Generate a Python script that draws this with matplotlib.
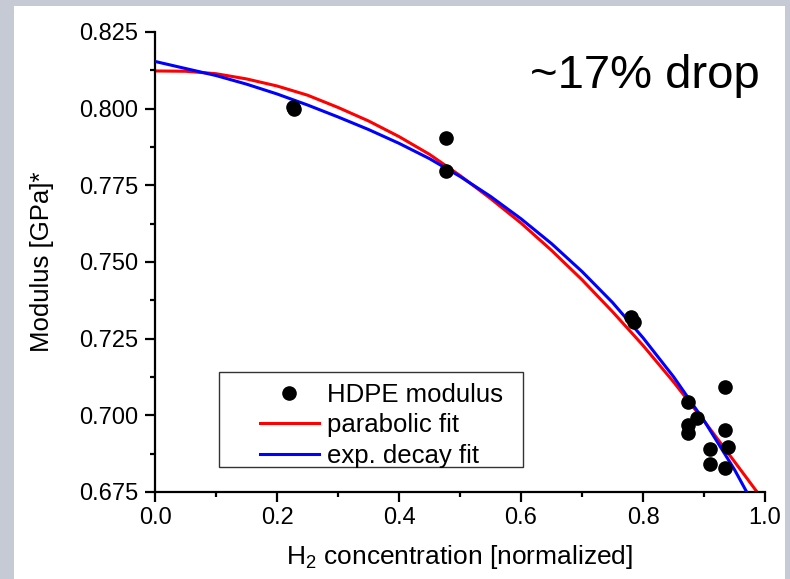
import matplotlib
matplotlib.use("Agg")
import matplotlib.pyplot as plt
from matplotlib.patches import Rectangle
from matplotlib.ticker import MultipleLocator, FormatStrFormatter

plt.rcParams["font.family"] = ["Liberation Sans", "DejaVu Sans"]
plt.rcParams["mathtext.fontset"] = "custom"
plt.rcParams["mathtext.rm"] = "Liberation Sans"
plt.rcParams["mathtext.default"] = "regular"

# measured HDPE modulus
h2_conc = [0.226, 0.228, 0.477, 0.477, 0.780, 0.786, 0.874, 0.873, 0.874,
           0.889, 0.910, 0.910, 0.934, 0.934, 0.940, 0.934]
modulus = [0.8005, 0.8000, 0.7905, 0.7797, 0.7322, 0.7303, 0.7044, 0.6968, 0.6943,
           0.6990, 0.6890, 0.6840, 0.7091, 0.6952, 0.6896, 0.6827]

# fit curves
fit_x = [0.00, 0.05, 0.10, 0.15, 0.20, 0.25, 0.30, 0.35, 0.40, 0.45,
         0.50, 0.55, 0.60, 0.65, 0.70, 0.75, 0.80, 0.85, 0.90, 0.95]
parabolic = [0.8123, 0.8122, 0.8114, 0.8097, 0.8074, 0.8044, 0.8004, 0.7960, 0.7909, 0.7851,
             0.7782, 0.7707, 0.7627, 0.7538, 0.7442, 0.7338, 0.7228, 0.7109, 0.6982, 0.6849]
exp_decay = [0.8154, 0.8131, 0.8108, 0.8080, 0.8048, 0.8012, 0.7973, 0.7932, 0.7887, 0.7837,
             0.7779, 0.7714, 0.7641, 0.7560, 0.7469, 0.7368, 0.7253, 0.7126, 0.6983, 0.6823]
parabolic_end = (0.987, 0.675)
exp_decay_end = (0.970, 0.675)

x_ticks = [0.0, 0.2, 0.4, 0.6, 0.8, 1.0]
y_ticks = [0.675, 0.700, 0.725, 0.750, 0.775, 0.800, 0.825]

fig = plt.figure(figsize=(7.9, 5.79), dpi=100)
fig.patch.set_facecolor("#c6cad4")
panel = Rectangle((14 / 790, 0), 771 / 790, 573 / 579, transform=fig.transFigure,
                  facecolor="white", edgecolor="none", zorder=-5)
fig.add_artist(panel)

ax = fig.add_axes([155 / 790, 87 / 579, 610 / 790, 460 / 579])
ax.set_facecolor("none")

ax.plot(fit_x + [parabolic_end[0]], parabolic + [parabolic_end[1]], color="#ff0000", lw=2.2,
        label="parabolic fit", zorder=2)
ax.plot(fit_x + [exp_decay_end[0]], exp_decay + [exp_decay_end[1]], color="#0000ff", lw=2.2,
        label="exp. decay fit", zorder=3)
ax.plot(h2_conc, modulus, "o", color="black", ms=9.5, label="HDPE modulus", zorder=4)

ax.set_xlim(0, 1.0)
ax.set_ylim(0.675, 0.825)
ax.set_xticks(x_ticks)
ax.set_yticks(y_ticks)
ax.xaxis.set_minor_locator(MultipleLocator(0.1))
ax.yaxis.set_minor_locator(MultipleLocator(0.0125))
ax.xaxis.set_major_formatter(FormatStrFormatter("%.1f"))
ax.yaxis.set_major_formatter(FormatStrFormatter("%.3f"))

for side in ["top", "right"]:
    ax.spines[side].set_visible(False)
for side in ["left", "bottom"]:
    ax.spines[side].set_linewidth(1.6)

ax.tick_params(which="major", direction="out", length=7, width=1.6)
ax.tick_params(which="minor", direction="out", length=3.5, width=1.6)
ax.tick_params(axis="x", labelsize=17, pad=4)
ax.tick_params(axis="y", labelsize=17, pad=5)

ax.set_ylabel("Modulus [GPa]*", fontsize=18.5)
ax.yaxis.set_label_coords(-0.165, 0.5)
ax.set_xlabel("H$_2$ concentration [normalized]", fontsize=19)
ax.xaxis.set_label_coords(0.5, -0.11)

ax.text(0.992, 0.878, "~17% drop", transform=ax.transAxes, fontsize=34,
        ha="right", va="baseline")

# legend box
ax.add_patch(Rectangle((0.105, 0.055), 0.498, 0.2065, transform=ax.transAxes,
                       facecolor="white", edgecolor="#333333", lw=1.0, zorder=5))
handles, labels = ax.get_legend_handles_labels()
order = [2, 0, 1]
leg = ax.legend([handles[i] for i in order], [labels[i] for i in order],
                loc="upper left", bbox_to_anchor=(0.172, 0.237), borderaxespad=0,
                borderpad=0, frameon=False, fontsize=18.5, handlelength=2.3,
                handletextpad=0.3, labelspacing=0.25, numpoints=1)
leg.set_zorder(6)

fig.savefig("out.png", dpi=100, facecolor=fig.get_facecolor())
